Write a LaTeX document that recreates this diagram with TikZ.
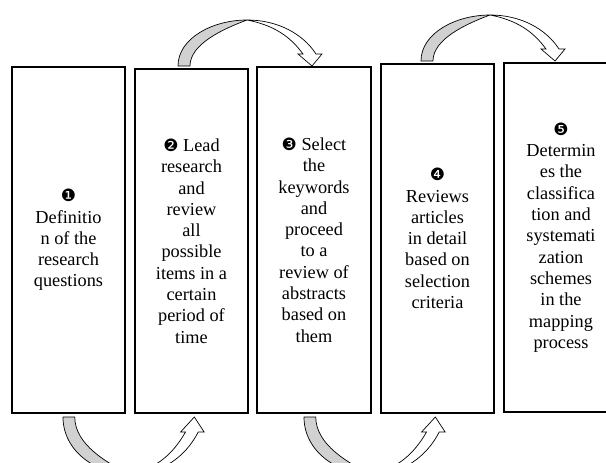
\documentclass[tikz,border=0pt]{standalone}
\usepackage{fontspec}
\setmainfont{Liberation Serif}
\newfontfamily\dingfont{DejaVu Sans}
\newcommand\dg[1]{{\dingfont\fontsize{17}{17}\selectfont #1}}
\newcommand\blockarrow{%
  \filldraw[arrowgray] (0,0) .. controls (0,28) and (35,46) .. (69,46)
     .. controls (45,37) and (12,22) .. (12,0) -- cycle;
  \filldraw[arrowwhite] (69,46) .. controls (100,46) and (125,32) .. (138,12)
     -- (144,12) -- (134,0) -- (120,12) -- (125,12)
     .. controls (112,30) and (95,41) .. (69,46) -- cycle;
}
\begin{document}
\begin{tikzpicture}[x=1pt,y=-1pt,
  box/.style={draw=black, line width=1.2pt, fill=white, inner sep=0pt, align=center,
    font=\fontsize{18.3}{21.3}\selectfont},
  arrowgray/.style={draw=black, line width=0.7pt, fill=black!18, line join=round},
  arrowwhite/.style={draw=black, line width=0.7pt, fill=white, line join=miter}]
\useasboundingbox (0,0) rectangle (606,463);
\clip (0,0) rectangle (606,463);
\node[box, minimum width=113pt, minimum height=346pt] (b1) at (68.5,240)
  {\dg{❶}\\Definitio\\n of the\\research\\questions};
\node[box, minimum width=113pt, minimum height=344pt] (b2) at (191.5,241)
  {\dg{❷} Lead\\research\\and\\review\\all\\possible\\items in a\\certain\\period of\\time};
\node[box, minimum width=114pt, minimum height=346pt] (b3) at (314,240)
  {\dg{❸} Select\\the\\keywords\\and\\proceed\\to a\\review of\\abstracts\\based on\\them};
\node[box, minimum width=113pt, minimum height=349pt] (b4) at (437.5,238.5)
  {\dg{❹}\\Reviews\\articles\\in detail\\based on\\selection\\criteria};
\node[box, minimum width=114pt, minimum height=349pt] (b5) at (561,237.5)
  {\dg{❺}\\Determin\\es the\\classifica\\tion and\\systemati\\zation\\schemes\\in the\\mapping\\process};
% top arrows
\begin{scope}[shift={(178,66)}, yscale=-1]
  \blockarrow
\end{scope}
\begin{scope}[shift={(421,61)}, yscale=-1]
  \blockarrow
\end{scope}
% bottom arrows
\begin{scope}[shift={(63,417)}, xscale=0.98, yscale=1.25]
  \blockarrow
\end{scope}
\begin{scope}[shift={(304,417)}, xscale=0.98, yscale=1.25]
  \blockarrow
\end{scope}
\end{tikzpicture}
\end{document}
